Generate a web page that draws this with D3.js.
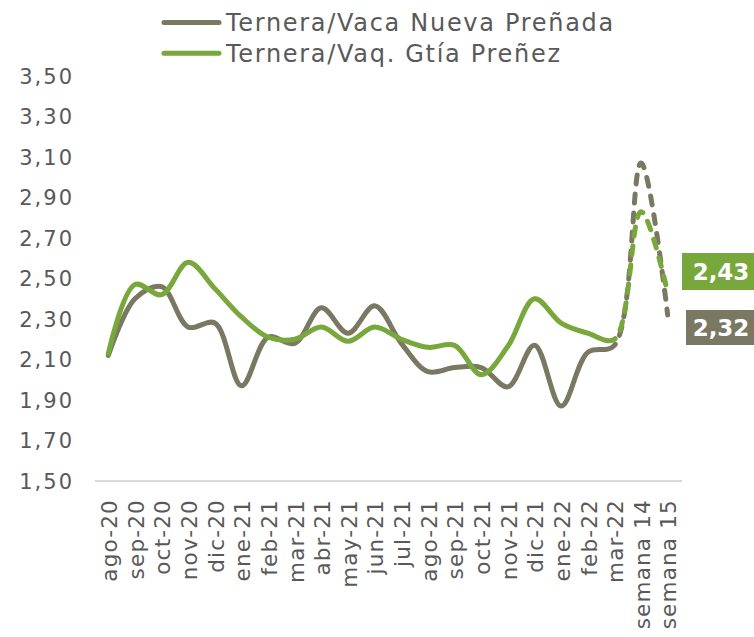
<!DOCTYPE html>
<html>
<head>
<meta charset="utf-8">
<script src="https://cdn.jsdelivr.net/npm/d3@7"></script>
<style>
  body { margin: 0; background: #fff; }
  svg { display: block; font-family: "DejaVu Sans", sans-serif; }
</style>
</head>
<body>
<svg id="chart" width="754" height="637"></svg>
<script>
const categories = ["ago-20", "sep-20", "oct-20", "nov-20", "dic-20", "ene-21", "feb-21", "mar-21",
  "abr-21", "may-21", "jun-21", "jul-21", "ago-21", "sep-21", "oct-21", "nov-21", "dic-21",
  "ene-22", "feb-22", "mar-22", "semana 14", "semana 15"];

const vacaNueva = [2.12, 2.40, 2.46, 2.26, 2.28, 1.97, 2.21, 2.18, 2.355, 2.23, 2.365, 2.18,
  2.04, 2.06, 2.06, 1.965, 2.17, 1.87, 2.135, 2.17, 3.07, 2.32];
const vaqGtia = [2.13, 2.47, 2.42, 2.58, 2.45, 2.31, 2.21, 2.20, 2.26, 2.19, 2.26, 2.20,
  2.16, 2.17, 2.025, 2.165, 2.40, 2.28, 2.23, 2.20, 2.83, 2.43];

const yTicks = [1.5, 1.7, 1.9, 2.1, 2.3, 2.5, 2.7, 2.9, 3.1, 3.3, 3.5];
const lastSolid = "mar-22"; // weekly points after this are dashed

const seriesNames = ["Ternera/Vaca Nueva Preñada", "Ternera/Vaq. Gtía Preñez"];
const seriesColors = ["#7a7862", "#78a83b"];

const svg = d3.select("#chart");
const locale = d3.formatLocale({ decimal: ",", thousands: ".", grouping: [3], currency: ["", "€"] });
const fmt = locale.format(".2f");

const x = d3.scalePoint().domain(categories).range([95, 681]).padding(0.5);
const y = d3.scaleLinear().domain([1.5, 3.5]).range([481, 76]);

// y tick labels
svg.append("g")
  .selectAll("text")
  .data(yTicks)
  .join("text")
  .attr("x", 74)
  .attr("y", d => y(d))
  .attr("dy", "0.36em")
  .attr("text-anchor", "end")
  .attr("fill", "#595959")
  .attr("font-size", 21)
  .attr("letter-spacing", 2)
  .text(d => fmt(d));

// x axis line
svg.append("line")
  .attr("x1", 95).attr("x2", 682)
  .attr("y1", y(1.5)).attr("y2", y(1.5))
  .attr("stroke", "#d9d9d9")
  .attr("stroke-width", 2);

// x labels, rotated
svg.append("g")
  .selectAll("text")
  .data(categories)
  .join("text")
  .attr("transform", d => `translate(${x(d) + 1},499) rotate(-90)`)
  .attr("dy", "0.36em")
  .attr("text-anchor", "end")
  .attr("fill", "#595959")
  .attr("font-size", 21.5)
  .attr("letter-spacing", 1.2)
  .text(d => d);

const line = d3.line()
  .x((d, i) => x(categories[i]))
  .y(d => y(d))
  .curve(d3.curveCatmullRom.alpha(0.5));

const dash = 9, gap = 10;

[vacaNueva, vaqGtia].forEach((vals, k) => {
  const p = svg.append("path")
    .attr("d", line(vals))
    .attr("fill", "none")
    .attr("stroke", seriesColors[k])
    .attr("stroke-width", 5)
    .attr("stroke-linecap", "round")
    .attr("stroke-linejoin", "round");

  // solid up to the last monthly point, dashed afterwards
  const node = p.node();
  const total = node.getTotalLength();
  const xCut = x(lastSolid);
  let lo = 0, hi = total;
  for (let n = 0; n < 40; n++) {
    const mid = (lo + hi) / 2;
    if (node.getPointAtLength(mid).x < xCut) lo = mid; else hi = mid;
  }
  const parts = [lo];
  let acc = lo;
  while (acc < total) { parts.push(gap, dash); acc += gap + dash; }
  parts.push(gap);
  p.attr("stroke-dasharray", parts.join(" "));
});

// legend
const legend = svg.append("g");
seriesNames.forEach((name, k) => {
  const ly = 22.5 + k * 30.8;
  legend.append("line")
    .attr("x1", 164).attr("x2", 219)
    .attr("y1", ly).attr("y2", ly)
    .attr("stroke", seriesColors[k])
    .attr("stroke-width", 5)
    .attr("stroke-linecap", "round");
  legend.append("text")
    .attr("x", 226).attr("y", ly)
    .attr("dy", "0.36em")
    .attr("fill", "#595959")
    .attr("font-size", 24)
    .attr("letter-spacing", 1.7)
    .text(name);
});

// end value boxes
const endLabels = [
  { value: vaqGtia[vaqGtia.length - 1], color: seriesColors[1] },
  { value: vacaNueva[vacaNueva.length - 1], color: seriesColors[0] }
];
const boxes = [{ x: 682, y: 253, h: 37 }, { x: 686, y: 310, h: 35 }];
endLabels.forEach((d, k) => {
  const b = boxes[k];
  svg.append("rect")
    .attr("x", b.x).attr("y", b.y)
    .attr("width", 754 - b.x).attr("height", b.h)
    .attr("fill", d.color);
  svg.append("text")
    .attr("x", 721).attr("y", b.y + b.h / 2)
    .attr("dy", "0.36em")
    .attr("text-anchor", "middle")
    .attr("fill", "#fff")
    .attr("font-size", 23)
    .attr("font-weight", "bold")
    .text(fmt(d.value));
});
</script>
</body>
</html>
